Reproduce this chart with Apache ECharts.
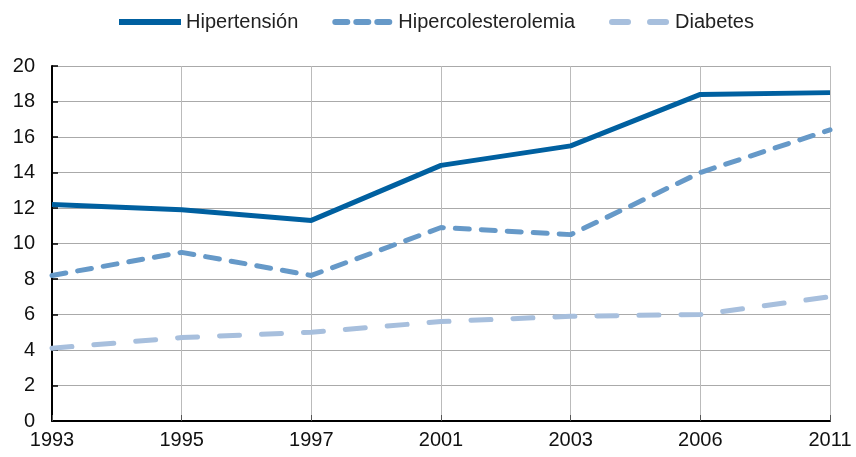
<!DOCTYPE html>
<html><head><meta charset="utf-8">
<script src="https://cdn.jsdelivr.net/npm/echarts@6/dist/echarts.min.js"></script>
<style>html,body{margin:0;padding:0;background:#fff}#c{width:856px;height:457px}</style>
</head><body><div id="c"></div>
<script>
const years = ['1993','1995','1997','2001','2003','2006','2011'];
const hipertension = [12.2, 11.9, 11.3, 14.4, 15.5, 18.4, 18.5];
const hipercolesterolemia = [8.2, 9.5, 8.2, 10.9, 10.5, 14.0, 16.4];
const diabetes = [4.1, 4.7, 5.0, 5.6, 5.9, 6.0, 7.0];
const seriesNames = ['Hipertensión', 'Hipercolesterolemia', 'Diabetes'];

function pill(x, w) { // rounded dash from x to x+w, height 6
  return 'M' + (x + 3) + ' 0H' + (x + w - 3) + 'A3 3 0 0 1 ' + (x + w - 3) + ' 6H' + (x + 3) + 'A3 3 0 0 1 ' + (x + 3) + ' 0Z';
}
const iconSolid = 'path://M0 0H64V6H0Z';
const iconDash3 = 'path://' + pill(0, 18) + pill(21, 18) + pill(42, 18);
const iconDash2 = 'path://' + pill(0, 22) + pill(38, 22);

const font = 'Liberation Sans, Arial, sans-serif';
const chart = echarts.init(document.getElementById('c'), null, {renderer: 'canvas'});
chart.setOption({
  animation: false,
  legend: {
    top: 7, left: 114, itemHeight: 6, itemGap: 34,
    textStyle: {fontFamily: font, fontSize: 20, color: '#222'},
    data: [
      {name: seriesNames[0], icon: iconSolid, itemWidth: 64},
      {name: seriesNames[1], icon: iconDash3, itemWidth: 60},
      {name: seriesNames[2], icon: iconDash2, itemWidth: 60}
    ],
    itemWidth: 62
  },
  grid: {left: 52, right: 26, top: 66, bottom: 36, containLabel: false},
  xAxis: {
    type: 'category', data: years, boundaryGap: false,
    axisLine: {lineStyle: {color: '#000', width: 2}},
    axisTick: {inside: true, length: 6, lineStyle: {color: '#555'}},
    axisLabel: {fontFamily: font, fontSize: 20, color: '#111', margin: 9},
    splitLine: {show: true, lineStyle: {color: '#bbb', width: 1}}
  },
  yAxis: {
    type: 'value', min: 0, max: 20, interval: 2,
    axisLine: {show: true, lineStyle: {color: '#000', width: 2}},
    axisTick: {show: true, inside: true, length: 6, lineStyle: {color: '#000', width: 1.5}},
    axisLabel: {fontFamily: font, fontSize: 20, color: '#111', margin: 17},
    splitLine: {show: true, lineStyle: {color: '#aaa', width: 1}}
  },
  series: [
    {name: seriesNames[0], type: 'line', data: hipertension, symbol: 'none', z: 5,
     color: '#0060a0', lineStyle: {width: 5, color: '#0060a0', cap: 'butt'}},
    {name: seriesNames[1], type: 'line', data: hipercolesterolemia, symbol: 'none', z: 4,
     color: '#6699c8', lineStyle: {width: 5, color: '#6699c8', type: [14, 12], cap: 'round'}},
    {name: seriesNames[2], type: 'line', data: diabetes, symbol: 'none', z: 3,
     color: '#a7bfdd', lineStyle: {width: 5, color: '#a7bfdd', type: [20, 22], cap: 'round'}}
  ]
});
</script></body></html>
